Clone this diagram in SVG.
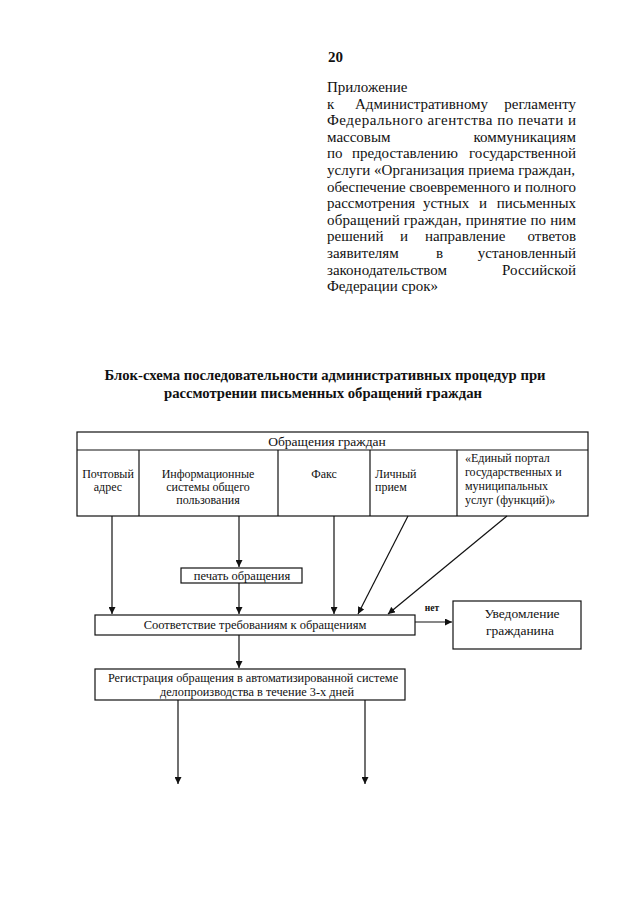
<svg xmlns="http://www.w3.org/2000/svg" width="640" height="905" viewBox="0 0 640 905">
<style>
.t{font-family:"Liberation Serif","Times New Roman",serif;fill:#111}
.b{font-weight:bold}
.p{font-size:15px}
.c{font-size:12px}
.box{fill:#fff;stroke:#111;stroke-width:1.2}
.ln{stroke:#111;stroke-width:1.2;fill:none}
</style>
<defs>
<marker id="ah" viewBox="0 0 10 10" refX="10" refY="5" markerWidth="7" markerHeight="7" markerUnits="userSpaceOnUse" orient="auto">
<path d="M0,0 L10,5 L0,10 z" fill="#111"/>
</marker>
</defs>
<rect width="640" height="905" fill="#fff"/>

<g id="header-text">
<text class="t b" x="328" y="62" font-size="15">20</text>
<g class="t p">
<text x="327" y="92">Приложение</text>
<text y="108.6"><tspan x="327">к</tspan><tspan x="355">Административному</tspan></text>
<text x="576" y="108.6" text-anchor="end">регламенту</text>
<text x="327" y="125.2" textLength="249" lengthAdjust="spacing">Федерального агентства по печати и</text>
<text x="327" y="141.8">массовым</text>
<text x="576" y="141.8" text-anchor="end">коммуникациям</text>
<text y="158.4"><tspan x="327">по</tspan><tspan x="352">предоставлению</tspan></text>
<text x="576" y="158.4" text-anchor="end">государственной</text>
<text x="327" y="175" textLength="248" lengthAdjust="spacing">услуги «Организация приема граждан,</text>
<text x="327" y="191.6" textLength="249" lengthAdjust="spacing">обеспечение своевременного и полного</text>
<text y="208.2"><tspan x="327">рассмотрения</tspan><tspan x="423">устных</tspan><tspan x="479">и</tspan></text>
<text x="576" y="208.2" text-anchor="end">письменных</text>
<text x="327" y="224.8" textLength="249" lengthAdjust="spacing">обращений граждан, принятие по ним</text>
<text y="241.4"><tspan x="327">решений</tspan><tspan x="400">и</tspan><tspan x="425">направление</tspan></text>
<text x="576" y="241.4" text-anchor="end">ответов</text>
<text y="258"><tspan x="327">заявителям</tspan><tspan x="436">в</tspan></text>
<text x="576" y="258" text-anchor="end">установленный</text>
<text x="327" y="274.6">законодательством</text>
<text x="576" y="274.6" text-anchor="end">Российской</text>
<text x="327" y="291.2">Федерации срок»</text>
</g>
</g>

<g id="title" class="t b" font-size="14.7" text-anchor="middle">
<text x="325" y="380">Блок-схема последовательности административных процедур при</text>
<text x="323" y="398">рассмотрении письменных обращений граждан</text>
</g>

<g id="appeals-table">
<rect class="box" x="77" y="432" width="511" height="84"/>
<line class="ln" x1="77" y1="450" x2="588" y2="450"/>
<line class="ln" x1="139" y1="450" x2="139" y2="516"/>
<line class="ln" x1="278" y1="450" x2="278" y2="516"/>
<line class="ln" x1="370" y1="450" x2="370" y2="516"/>
<line class="ln" x1="457" y1="450" x2="457" y2="516"/>
<text class="t" x="327" y="446" font-size="13.5" text-anchor="middle">Обращения граждан</text>
</g>
<g id="cell-post" class="t c" text-anchor="middle">
<text x="108" y="478">Почтовый</text>
<text x="108" y="491">адрес</text>
</g>
<g id="cell-info" class="t c" text-anchor="middle">
<text x="208" y="478">Информационные</text>
<text x="208" y="491">системы общего</text>
<text x="208" y="504">пользования</text>
</g>
<g id="cell-fax" class="t c" text-anchor="middle">
<text x="324" y="478">Факс</text>
</g>
<g id="cell-personal" class="t c">
<text x="375" y="478">Личный</text>
<text x="375" y="491">прием</text>
</g>
<g id="cell-portal" class="t c">
<text x="465" y="462">«Единый портал</text>
<text x="465" y="476">государственных и</text>
<text x="465" y="490">муниципальных</text>
<text x="465" y="504">услуг (функций)»</text>
</g>

<g id="print">
<rect class="box" x="181" y="568" width="121" height="15"/>
<text class="t" x="242" y="580" font-size="12.5" text-anchor="middle">печать обращения</text>
</g>

<g id="check">
<rect class="box" x="95" y="615" width="320" height="20"/>
<text class="t" x="255" y="629" font-size="12.5" text-anchor="middle">Соответствие требованиям к обращениям</text>
</g>

<g id="notify">
<rect class="box" x="453" y="601" width="128" height="48"/>
<text class="t" x="522" y="618" font-size="13.5" text-anchor="middle">Уведомление</text>
<text class="t" x="520" y="635" font-size="13.5" text-anchor="middle">гражданина</text>
</g>

<g id="register">
<rect class="box" x="95" y="669" width="310" height="31"/>
<text class="t" x="253" y="682" font-size="12.3" text-anchor="middle">Регистрация обращения в автоматизированной системе</text>
<text class="t" x="257" y="696" font-size="12.3" text-anchor="middle">делопроизводства в течение 3-х дней</text>
</g>

<g id="connectors">
<line class="ln" x1="112" y1="516" x2="112" y2="614" marker-end="url(#ah)"/>
<line class="ln" x1="239" y1="516" x2="239" y2="567" marker-end="url(#ah)"/>
<line class="ln" x1="239" y1="583" x2="239" y2="614" marker-end="url(#ah)"/>
<line class="ln" x1="334" y1="516" x2="334" y2="614" marker-end="url(#ah)"/>
<line class="ln" x1="408" y1="516" x2="358" y2="614" marker-end="url(#ah)"/>
<line class="ln" x1="507" y1="516" x2="388" y2="614" marker-end="url(#ah)"/>
<line class="ln" x1="415" y1="622" x2="452" y2="622" marker-end="url(#ah)"/>
<text class="t b" x="432" y="611" font-size="9.5" text-anchor="middle">нет</text>
<line class="ln" x1="239" y1="635" x2="239" y2="668" marker-end="url(#ah)"/>
<line class="ln" x1="178" y1="700" x2="178" y2="784" marker-end="url(#ah)"/>
<line class="ln" x1="365" y1="700" x2="365" y2="784" marker-end="url(#ah)"/>
</g>
</svg>
